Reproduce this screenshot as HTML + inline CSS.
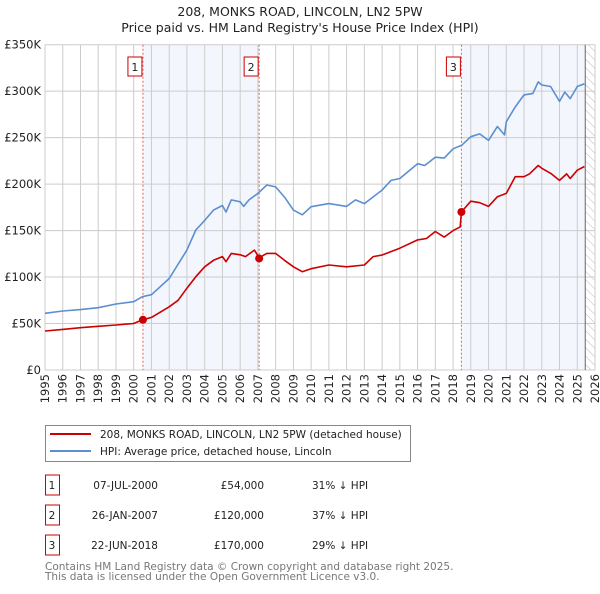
<!DOCTYPE html>
<html><head><meta charset="utf-8"><style>
body{margin:0;background:#fff;width:600px;height:590px;overflow:hidden;font-family:"DejaVu Sans","Liberation Sans",sans-serif;}
svg text{font-family:"DejaVu Sans","Liberation Sans",sans-serif;}
</style></head><body>
<svg id="chart" width="600" height="590" xmlns="http://www.w3.org/2000/svg">
<defs><pattern id="hatch" width="6" height="6" patternUnits="userSpaceOnUse" patternTransform="rotate(-45)"><line x1="0" y1="0" x2="0" y2="6" stroke="#bbb" stroke-width="1"/></pattern></defs>
<text x="300" y="16" text-anchor="middle" font-size="12.5" fill="#222">208, MONKS ROAD, LINCOLN, LN2 5PW</text>
<text x="300" y="32" text-anchor="middle" font-size="12.5" fill="#222">Price paid vs. HM Land Registry's House Price Index (HPI)</text>
<g id="plot"></g>
<g>
<rect x="45.5" y="425.5" width="365" height="36" fill="#fff" stroke="#888"/>
<line x1="50" y1="434" x2="91" y2="434" stroke="#cc0000" stroke-width="2"/>
<text x="100" y="438" font-size="10.5" fill="#222">208, MONKS ROAD, LINCOLN, LN2 5PW (detached house)</text>
<line x1="50" y1="451" x2="91" y2="451" stroke="#5b8fd0" stroke-width="2"/>
<text x="100" y="455" font-size="10.5" fill="#222">HPI: Average price, detached house, Lincoln</text>
</g>
<g id="table" font-size="10.5" fill="#222"></g>
<text x="45" y="570" font-size="10.5" fill="#777">Contains HM Land Registry data © Crown copyright and database right 2025.</text>
<text x="45" y="580" font-size="10.5" fill="#777">This data is licensed under the Open Government Licence v3.0.</text>
</svg>
<script>
const hpiYears=[1995,1996,1997,1998,1999,2000,2000.5,2001,2002,2003,2003.5,2004,2004.5,2005,2005.2,2005.5,2006,2006.2,2006.5,2007,2007.5,2008,2008.5,2009,2009.5,2010,2011,2012,2012.5,2013,2014,2014.5,2015,2016,2016.4,2017,2017.5,2018,2018.5,2019,2019.5,2020,2020.5,2020.9,2021,2021.5,2022,2022.5,2022.8,2023,2023.5,2024,2024.3,2024.6,2025,2025.4];
const hpiValues=[61,63.5,65,67,71,73.5,79,81,98.5,129,150.6,161,172,177,170,183,181,176,183,190,199,197,186,172,167,175.7,179,176,183,179,193.6,204,206,222,220,229,228,238,242,251,254,247,262,253,267,283,296,297.6,310,306.6,305,289,299,292,305,308];
const priceYears=[1995,1996,1997,1998,1999,2000,2000.5,2001,2002,2002.5,2003,2003.5,2004,2004.5,2005,2005.2,2005.5,2006,2006.3,2006.8,2007.07,2007.5,2008,2008.5,2009,2009.5,2010,2011,2012,2013,2013.5,2014,2015,2016,2016.5,2017,2017.5,2018,2018.4,2018.47,2019,2019.5,2020,2020.5,2021,2021.5,2022,2022.3,2022.8,2023,2023.5,2024,2024.4,2024.6,2025,2025.4];
const priceValues=[42,43.7,45.5,47,48.4,50,54,56.6,68,75,88,100.4,111,118,122,116.5,125.5,124,122,129,120.8,125.5,125.5,118,111,105.8,109,113,111,113,122,123.7,131,140,141.5,149,143,150,154,170,181.6,180,176,186.5,190,208,208,211,220,217,211.6,204,211,206,215,219];
const saleLabels=["1","2","3"];
const saleYears=[2000.52,2007.07,2018.47];
const saleValues=[54,120,170];
const saleDates=["07-JUL-2000","26-JAN-2007","22-JUN-2018"];
const salePrices=["£54,000","£120,000","£170,000"];
const saleDiffs=["31% ↓ HPI","37% ↓ HPI","29% ↓ HPI"];
const yTicks=[0,50,100,150,200,250,300,350];
const yTickLabels=["£0","£50K","£100K","£150K","£200K","£250K","£300K","£350K"];
const xTicks=[1995,1996,1997,1998,1999,2000,2001,2002,2003,2004,2005,2006,2007,2008,2009,2010,2011,2012,2013,2014,2015,2016,2017,2018,2019,2020,2021,2022,2023,2024,2025,2026];
const X0=45,X1=595,Y0=370,Y1=44.7,XMIN=1995,XMAX=2026,YMAX=350,DATA_END=2025.45;
const xs=v=>X0+(v-XMIN)/(XMAX-XMIN)*(X1-X0);
const ys=v=>Y0-v/YMAX*(Y0-Y1);
const NS="http://www.w3.org/2000/svg";
const plot=document.getElementById('plot');
function mk(tag,attrs,parent){const e=document.createElementNS(NS,tag);for(const k in attrs)e.setAttribute(k,attrs[k]);(parent||plot).appendChild(e);return e;}
let s1=mk('rect',{x:xs(saleYears[0]),y:Y1,width:xs(saleYears[1])-xs(saleYears[0]),height:Y0-Y1,fill:'#f3f6fd'});


let s2=mk('rect',{x:xs(saleYears[2]),y:Y1,width:xs(DATA_END)-xs(saleYears[2]),height:Y0-Y1,fill:'#f3f6fd'});


let hz=mk('rect',{x:xs(DATA_END),y:Y1,width:X1-xs(DATA_END),height:Y0-Y1,fill:'url(#hatch)'});


yTicks.forEach((t,i)=>{
  const l=mk('line',{x1:X0,x2:X1,y1:ys(t),y2:ys(t),stroke:'#ccc','stroke-width':1});
  
  
  const tx=mk('text',{x:X0-4,y:ys(t)+4,'text-anchor':'end','font-size':11.5,fill:'#222'});
  tx.textContent=yTickLabels[i];
  
  
});
xTicks.forEach(t=>{
  const l=mk('line',{x1:xs(t),x2:xs(t),y1:Y1,y2:Y0,stroke:'#ccc','stroke-width':1});
  
  
  const tx=mk('text',{x:0,y:0,'text-anchor':'end','font-size':11.5,fill:'#222',transform:`translate(${xs(t)+4},${Y0+4}) rotate(-90)`});
  tx.textContent=t;
  
  
});
let dl=mk('line',{x1:xs(DATA_END),x2:xs(DATA_END),y1:Y1,y2:Y0,stroke:'#666','stroke-width':1});


saleYears.forEach((y,i)=>{
  const l=mk('line',{x1:xs(y),x2:xs(y),y1:Y1,y2:Y0,stroke:'#e06060','stroke-width':1,'stroke-dasharray':'2,2'});
  
  
  const b=mk('rect',{x:xs(y)-15,y:57,width:14,height:19,fill:'#fff',stroke:'#cc0000'});
  
  
  const t=mk('text',{x:xs(y)-8,y:71,'text-anchor':'middle','font-size':11,fill:'#222'});
  t.textContent=saleLabels[i];
  
  
});
function path(xsArr,vs){return xsArr.map((x,i)=>(i?'L':'M')+xs(x).toFixed(1)+','+ys(vs[i]).toFixed(1)).join(' ');}
let hp=mk('path',{d:path(hpiYears,hpiValues),fill:'none',stroke:'#5b8fd0','stroke-width':1.6,'stroke-linejoin':'round'});


let pp=mk('path',{d:path(priceYears,priceValues),fill:'none',stroke:'#cc0000','stroke-width':1.6,'stroke-linejoin':'round'});


saleYears.forEach((y,i)=>{
  const c=mk('circle',{cx:xs(y),cy:ys(saleValues[i]),r:4,fill:'#cc0000'});
  
  
});
const tb=document.getElementById('table');
saleLabels.forEach((l,i)=>{
  const cy=485+i*30;
  const b=mk('rect',{x:45.5,y:cy-10,width:14,height:20,fill:'#fff',stroke:'#cc0000'},tb);
  
  
  const cols=[[52,'middle',l],[158,'end',saleDates[i]],[264,'end',salePrices[i]],[312,'start',saleDiffs[i]]];
  cols.forEach(([x,a,s])=>{
    const t=mk('text',{x:x,y:cy+4,'text-anchor':a},tb);
    t.textContent=s;
    
    
  });
});
</script>
</body></html>
